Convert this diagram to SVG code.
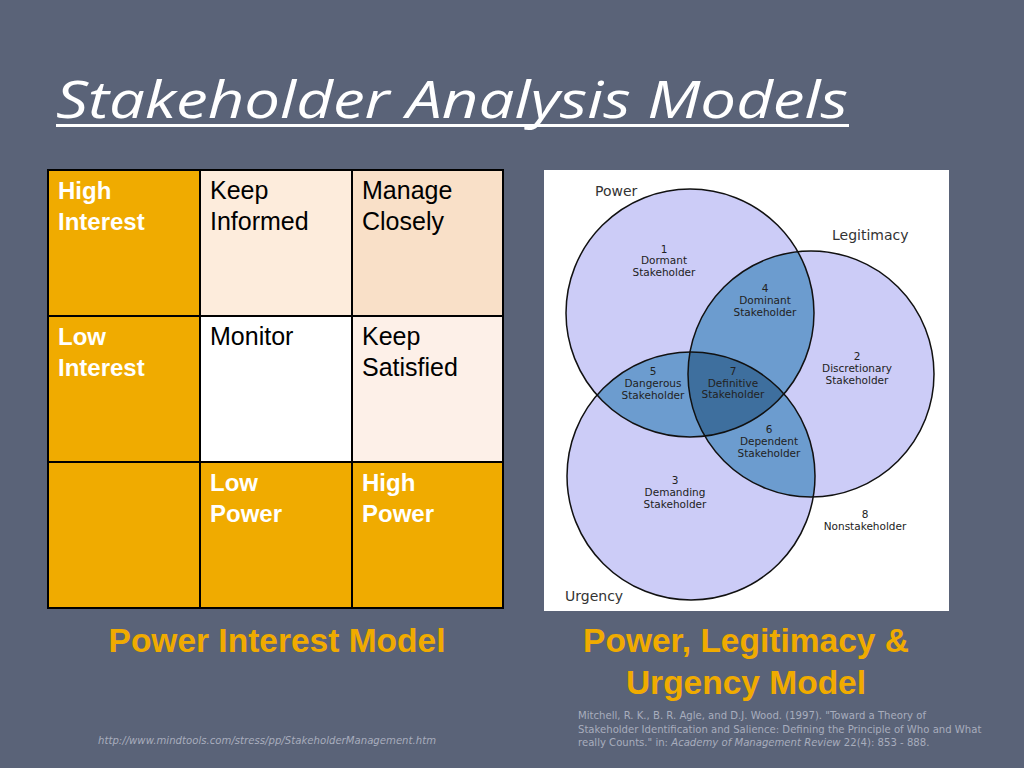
<svg xmlns="http://www.w3.org/2000/svg" width="1024" height="768" viewBox="0 0 1024 768">
<style>
.t{font-family:"Liberation Sans",Arial,sans-serif;font-size:25px;fill:#000}
.tw{font-family:"Liberation Sans",Arial,sans-serif;font-size:24px;font-weight:bold;fill:#fff}
.cap{font-family:"Liberation Sans",Arial,sans-serif;font-size:33.5px;font-weight:bold;fill:#f0ab00;text-anchor:middle}
.v{font-family:"DejaVu Sans",Verdana,sans-serif;font-size:10.5px;fill:#222;text-anchor:middle}
.vl{font-family:"DejaVu Sans",Verdana,sans-serif;font-size:14px;fill:#333}
.ref{font-family:"DejaVu Sans",Verdana,sans-serif;font-size:10.1px;fill:#a8adbd}
.c{stroke:#111;stroke-width:1.5}
</style>
<defs>
<clipPath id="cp"><circle cx="690" cy="313" r="124"/></clipPath>
<clipPath id="cl"><circle cx="811" cy="374" r="123"/></clipPath>
<clipPath id="cu"><circle cx="691" cy="476" r="124"/></clipPath>
</defs>
<rect width="1024" height="768" fill="#5a6378"/>
<text x="56" y="118" font-family="'Open Sans','DejaVu Sans',sans-serif" font-size="52" font-style="italic" fill="#fff" textLength="792" lengthAdjust="spacingAndGlyphs">Stakeholder Analysis Models</text>
<rect x="56" y="124" width="793" height="3" fill="#fff"/>
<g id="grid" stroke="#000" stroke-width="2">
<rect x="48" y="170" width="152" height="146" fill="#f0ab00"/>
<rect x="200" y="170" width="152" height="146" fill="#fdecdc"/>
<rect x="352" y="170" width="151" height="146" fill="#f9e0c8"/>
<rect x="48" y="316" width="152" height="146" fill="#f0ab00"/>
<rect x="200" y="316" width="152" height="146" fill="#ffffff"/>
<rect x="352" y="316" width="151" height="146" fill="#fdf0e8"/>
<rect x="48" y="462" width="152" height="146" fill="#f0ab00"/>
<rect x="200" y="462" width="152" height="146" fill="#f0ab00"/>
<rect x="352" y="462" width="151" height="146" fill="#f0ab00"/>
</g>
<g id="gridtext">
<text class="tw" x="58" y="199">High</text><text class="tw" x="58" y="230">Interest</text>
<text class="t" x="210" y="199">Keep</text><text class="t" x="210" y="230">Informed</text>
<text class="t" x="362" y="199">Manage</text><text class="t" x="362" y="230">Closely</text>
<text class="tw" x="58" y="345">Low</text><text class="tw" x="58" y="376">Interest</text>
<text class="t" x="210" y="345">Monitor</text>
<text class="t" x="362" y="345">Keep</text><text class="t" x="362" y="376">Satisfied</text>
<text class="tw" x="210" y="491">Low</text><text class="tw" x="210" y="522">Power</text>
<text class="tw" x="362" y="491">High</text><text class="tw" x="362" y="522">Power</text>
</g>
<text class="cap" x="277" y="652">Power Interest Model</text>
<text class="cap" x="746" y="652">Power, Legitimacy &amp;</text>
<text class="cap" x="746" y="694">Urgency Model</text>
<g id="venn">
<rect x="544" y="170" width="405" height="441" fill="#fff"/>
<circle cx="690" cy="313" r="124" fill="#ccccf7"/>
<circle cx="811" cy="374" r="123" fill="#ccccf7"/>
<circle cx="691" cy="476" r="124" fill="#ccccf7"/>
<circle cx="811" cy="374" r="123" fill="#6c9ccf" clip-path="url(#cp)"/>
<circle cx="691" cy="476" r="124" fill="#6c9ccf" clip-path="url(#cp)"/>
<circle cx="691" cy="476" r="124" fill="#6c9ccf" clip-path="url(#cl)"/>
<g clip-path="url(#cp)"><circle cx="691" cy="476" r="124" fill="#3e6f9e" clip-path="url(#cl)"/></g>
<circle cx="690" cy="313" r="124" fill="none" class="c"/>
<circle cx="811" cy="374" r="123" fill="none" class="c"/>
<circle cx="691" cy="476" r="124" fill="none" class="c"/>
<text class="vl" x="595" y="196">Power</text>
<text class="vl" x="832" y="240">Legitimacy</text>
<text class="vl" x="565" y="601">Urgency</text>
<text class="v" x="664" y="253">1</text><text class="v" x="664" y="264">Dormant</text><text class="v" x="664" y="276">Stakeholder</text>
<text class="v" x="765" y="292">4</text><text class="v" x="765" y="304">Dominant</text><text class="v" x="765" y="316">Stakeholder</text>
<text class="v" x="857" y="360">2</text><text class="v" x="857" y="372">Discretionary</text><text class="v" x="857" y="384">Stakeholder</text>
<text class="v" x="653" y="375">5</text><text class="v" x="653" y="387">Dangerous</text><text class="v" x="653" y="399">Stakeholder</text>
<text class="v" x="733" y="375">7</text><text class="v" x="733" y="387">Definitive</text><text class="v" x="733" y="398">Stakeholder</text>
<text class="v" x="769" y="433">6</text><text class="v" x="769" y="445">Dependent</text><text class="v" x="769" y="457">Stakeholder</text>
<text class="v" x="675" y="484">3</text><text class="v" x="675" y="496">Demanding</text><text class="v" x="675" y="508">Stakeholder</text>
<text class="v" x="865" y="518">8</text><text class="v" x="865" y="530">Nonstakeholder</text>
</g>
<text class="ref" x="578" y="719">Mitchell, R. K., B. R. Agle, and D.J. Wood. (1997). "Toward a Theory of</text>
<text class="ref" x="578" y="733">Stakeholder Identification and Salience: Defining the Principle of Who and What</text>
<text class="ref" x="578" y="746">really Counts." in: <tspan font-style="italic">Academy of Management Review</tspan> 22(4): 853 - 888.</text>
<text class="ref" x="98" y="744" font-style="italic" textLength="338">http://www.mindtools.com/stress/pp/StakeholderManagement.htm</text>
</svg>
